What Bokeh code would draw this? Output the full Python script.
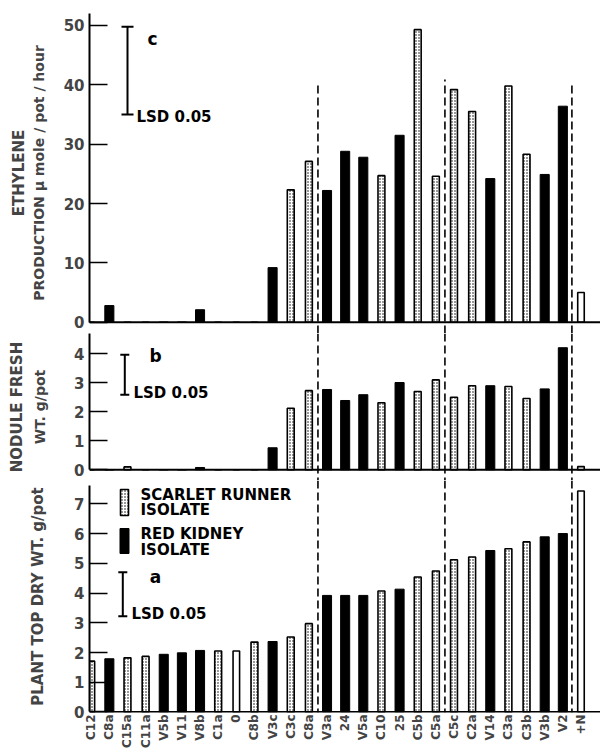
from math import pi
from bokeh.plotting import figure
from bokeh.layouts import column
from bokeh.models import (Range1d, FixedTicker, Span, Label, Whisker, TeeHead,
                          ColumnDataSource, Title)
from bokeh.embed import file_html
from bokeh.resources import INLINE

# ---------------- data ----------------
isolates = ["C12", "C8a", "C15a", "C11a", "V5b", "V11", "V8b", "C1a", "0", "C8b",
            "V3c", "C3c", "C8a", "V3a", "24", "V5a", "C10", "25", "C5b", "C5a",
            "C5c", "C2a", "V14", "C3a", "C3b", "V3b", "V2", "+N"]
# S = scarlet runner isolate, R = red kidney isolate, N = control (open bar)
isolate_type = ["S", "R", "S", "S", "R", "R", "R", "S", "N", "S",
                "R", "S", "S", "R", "R", "R", "S", "R", "S", "S",
                "S", "S", "R", "S", "S", "R", "R", "N"]
ethylene = [0, 2.8, 0, 0, 0, 0, 2.1, 0, 0, 0,
            9.2, 22.3, 27.1, 22.2, 28.8, 27.8, 24.7, 31.5, 49.3, 24.6,
            39.2, 35.5, 24.2, 39.8, 28.3, 24.9, 36.4, 5.0]
nodule_wt = [0, 0, 0.1, 0, 0, 0, 0.08, 0, 0, 0,
             0.76, 2.12, 2.73, 2.77, 2.39, 2.59, 2.31, 3.01, 2.70, 3.10,
             2.50, 2.90, 2.90, 2.87, 2.46, 2.79, 4.21, 0.11]
top_dry_wt = [1.71, 1.79, 1.82, 1.87, 1.94, 1.99, 2.07, 2.05, 2.05, 2.35,
              2.37, 2.52, 2.97, 3.92, 3.92, 3.92, 4.07, 4.13, 4.54, 4.74,
              5.12, 5.21, 5.43, 5.49, 5.72, 5.89, 6.00, 7.43]
# LSD 0.05 bars (low, high) for panels c, b, a
lsd_c = (35.0, 49.8)
lsd_b = (2.59, 3.97)
lsd_a = (3.22, 4.70)
ticks_c = [0, 10, 20, 30, 40, 50]
ticks_b = [0, 1, 2, 3, 4]
ticks_a = [0, 1, 2, 3, 4, 5, 6, 7]
group_breaks = [12.5, 19.5, 26.5]

FONT = "DejaVu Sans"
LEFT = 89
WIDTH = 600
PXU = 18.14
X0 = -(90.7 - LEFT) / PXU
X1 = X0 + (WIDTH - LEFT) / PXU


def X(px):
    return X0 + (px - LEFT) / PXU


def make_fig(height, ys, ye, ticks, bound_top, mt, mb, ylabel, ylabel_size,
             ylabel_standoff, xaxis=False):
    p = figure(width=WIDTH, height=height, x_range=Range1d(X0, X1),
               y_range=Range1d(ys, ye), output_backend="svg",
               toolbar_location=None,
               x_axis_location="below" if xaxis else None,
               min_border_left=LEFT, min_border_right=0,
               min_border_top=mt, min_border_bottom=mb)
    p.outline_line_color = None
    p.grid.visible = False
    ax = p.yaxis[0]
    ax.ticker = FixedTicker(ticks=ticks)
    ax.bounds = (0, bound_top)
    ax.major_tick_in = 18
    ax.major_tick_out = 0
    ax.minor_tick_in = 0
    ax.minor_tick_out = 0
    ax.axis_line_width = 2
    ax.major_tick_line_width = 1.5
    ax.major_label_text_font = FONT
    ax.major_label_text_font_size = "15px"
    ax.major_label_text_font_style = "bold"
    ax.major_label_standoff = 5
    ax.axis_label = ylabel
    ax.axis_label_text_font = FONT
    ax.axis_label_text_font_size = ylabel_size
    ax.axis_label_text_font_style = "bold"
    ax.axis_label_standoff = ylabel_standoff
    p.add_layout(Span(location=0, dimension="width", line_color="black",
                      line_width=2))
    return p


def add_title(p, text, size, standoff):
    p.add_layout(Title(text=text, align="center", text_font=FONT,
                       text_font_size=size, text_font_style="bold",
                       standoff=standoff), "left")


def add_bars(p, vals):
    for t in ["S", "R", "N"]:
        xs = [i for i, tt in enumerate(isolate_type) if tt == t]
        ys = [vals[i] for i in xs]
        src = ColumnDataSource(dict(x=xs, top=ys))
        if t == "R":
            p.vbar(x="x", top="top", width=0.5, bottom=0, source=src,
                   fill_color="black", line_color="black", line_width=1)
        elif t == "S":
            p.vbar(x="x", top="top", width=0.38, bottom=0, source=src,
                   fill_color="white", line_color="black", line_width=1.6,
                   hatch_pattern="dot", hatch_scale=3, hatch_color="black",
                   hatch_weight=1.2, hatch_alpha=1.0)
        else:
            p.vbar(x="x", top="top", width=0.36, bottom=0, source=src,
                   fill_color="white", line_color="black", line_width=1.6)


def add_label(p, x, y, text, size, align="left"):
    p.add_layout(Label(x=x, y=y, text=text, text_align=align,
                       text_baseline="middle", text_font=FONT,
                       text_font_size=size, text_font_style="bold",
                       text_color="black"))


def add_lsd(p, x, lo_hi, cap):
    src = ColumnDataSource(dict(base=[x], lower=[lo_hi[0]], upper=[lo_hi[1]]))
    p.add_layout(Whisker(source=src, base="base", lower="lower", upper="upper",
                         dimension="height", line_width=2, line_color="black",
                         upper_head=TeeHead(size=cap, line_width=2),
                         lower_head=TeeHead(size=cap, line_width=2)))


# ---------------- panel c : ethylene ----------------
def Yc(py):
    return 52.19 - (py - 12) / 5.934


pc = make_fig(333, Yc(333), Yc(12), ticks_c, 52.1, 12, 0,
              "PRODUCTION \u03bc mole / pot / hour", "14px", 14)
add_bars(pc, ethylene)
pc.segment(x0=group_breaks, y0=[Yc(333)] * 3, x1=group_breaks,
           y1=[Yc(85), Yc(79), Yc(82)], line_color="black", line_width=1.6,
           line_dash="8 4")
add_lsd(pc, X(127), lsd_c, 12)
add_label(pc, X(152), Yc(38), "c", "17px", align="center")
add_label(pc, X(136), Yc(116), "LSD 0.05", "15px")
add_title(pc, "ETHYLENE", "15px", 0)


# ---------------- panel b : nodule fresh weight ----------------
def Yb(py):
    return 4.70 - (py - 333) / 29.0


pb = make_fig(147, Yb(480), Yb(333), ticks_b, 4.69, 0, 0,
              "WT. g/pot", "14px", 23)
add_bars(pb, nodule_wt)
for gx in group_breaks:
    pb.add_layout(Span(location=gx, dimension="height", line_color="black",
                       line_width=1.6, line_dash="8 4"))
add_lsd(pb, X(124.3), lsd_b, 9)
add_label(pb, X(155), Yb(355), "b", "17px", align="center")
add_label(pb, X(133), Yb(392), "LSD 0.05", "15px")
add_title(pb, "NODULE FRESH", "15px", 8)


# ---------------- panel a : plant top dry weight ----------------
def Ya(py):
    return 7.784 - (py - 480) / 29.74


pa = make_fig(271, Ya(712), Ya(480), ticks_a, 7.6, 0, 39,
              "PLANT TOP DRY WT. g/pot", "15px", 24, xaxis=True)
add_bars(pa, top_dry_wt)
for gx in group_breaks:
    pa.add_layout(Span(location=gx, dimension="height", line_color="black",
                       line_width=1.6, line_dash="8 4"))
xa = pa.xaxis[0]
xa.ticker = FixedTicker(ticks=list(range(len(isolates))))
xa.major_label_overrides = {i: lab for i, lab in enumerate(isolates)}
xa.major_label_orientation = pi / 2
xa.axis_line_color = None
xa.major_tick_in = 0
xa.major_tick_out = 0
xa.minor_tick_in = 0
xa.minor_tick_out = 0
xa.major_label_standoff = 2
xa.major_label_text_font = FONT
xa.major_label_text_font_size = "12px"
xa.major_label_text_font_style = "bold"

add_lsd(pa, X(122.3), lsd_a, 9)
add_label(pa, X(155), Ya(576), "a", "17px", align="center")
add_label(pa, X(131), Ya(613), "LSD 0.05", "15px")
# legend
pa.rect(x=[X(124)], y=[Ya(502)], width=8, height=26, width_units="screen",
        height_units="screen", fill_color="white", line_color="black",
        line_width=1.6, hatch_pattern="dot", hatch_scale=3,
        hatch_color="black", hatch_weight=1.2, hatch_alpha=1.0)
pa.rect(x=[X(124)], y=[Ya(540.5)], width=9, height=25, width_units="screen",
        height_units="screen", fill_color="black", line_color="black")
add_label(pa, X(140), Ya(494), "SCARLET RUNNER", "15px")
add_label(pa, X(140), Ya(509), "ISOLATE", "15px")
add_label(pa, X(140), Ya(533), "RED KIDNEY", "15px")
add_label(pa, X(140), Ya(549), "ISOLATE", "15px")

layout = column(pc, pb, pa, spacing=0)
open("out.html", "w").write(file_html(layout, INLINE))
